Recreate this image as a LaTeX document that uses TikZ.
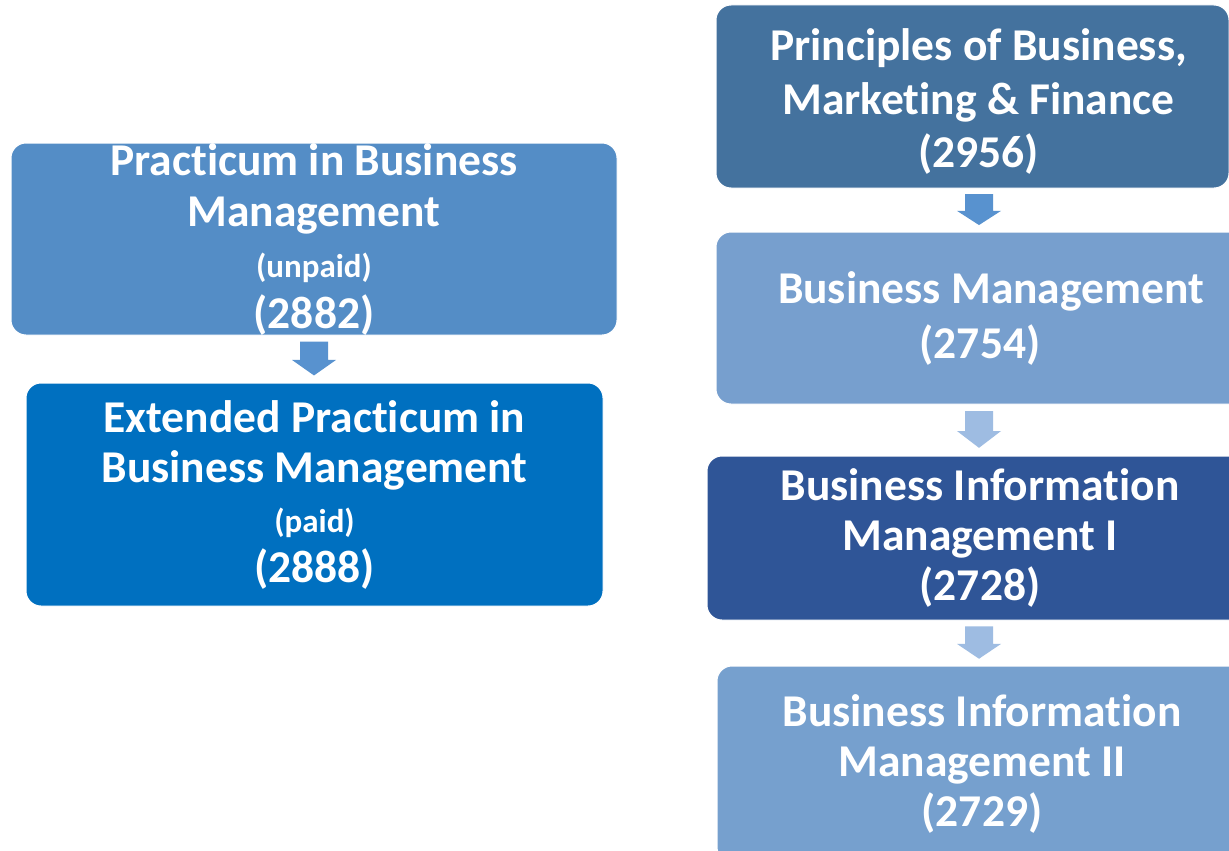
\documentclass[tikz,border=0pt]{standalone}
\usepackage{fontspec}
\setmainfont{Carlito}[Ligatures={NoCommon,NoContextual}]
\usetikzlibrary{calc}
\definecolor{cPract}{HTML}{548DC6}
\definecolor{cExt}{HTML}{0070C0}
\definecolor{cPrin}{HTML}{44729E}
\definecolor{cBM}{HTML}{779FCE}
\definecolor{cBIMa}{HTML}{2F5597}
\definecolor{cBIMb}{HTML}{76A0CE}
\definecolor{cArrDark}{HTML}{5892CF}
\definecolor{cArrLight}{HTML}{9EBCE2}
\tikzset{
  course/.style={rounded corners=15pt, draw=white, line width=1pt, text=white,
    align=center, inner sep=0pt, font=\bfseries\fontsize{45.5}{51}\selectfont},
}
\newcommand\blockarrow[4]{%
  \path (#4 |- #2.south) coordinate (s) (#4 |- #3.north) coordinate (e);
  \fill[#1] ($(s)!0.13!(e)+(-14,0)$) -- ($(s)!0.13!(e)+(14,0)$)
    -- ($(s)!0.52!(e)+(14,0)$) -- ($(s)!0.52!(e)+(22,0)$)
    -- ($(s)!0.85!(e)$) -- ($(s)!0.52!(e)+(-22,0)$)
    -- ($(s)!0.52!(e)+(-14,0)$) -- cycle;}
\newcommand\smalltxt[1]{{\fontsize{33}{33}\selectfont #1}}
\begin{document}
\begin{tikzpicture}[x=1pt,y=-1pt]
\useasboundingbox (0,0) rectangle (1229,851);
\fill[white] (0,0) rectangle (1229,851);
\clip (0,0) rectangle (1229,851);
% left column
\node[course, fill=cPract, minimum width=606, minimum height=192] (pract) at (314,239)
  {Practicum in Business\\Management\\\smalltxt{(unpaid)}\\(2882)};
\node[course, fill=cExt, minimum width=577, minimum height=223,
  font=\bfseries\fontsize{45.5}{50}\selectfont] (ext) at (314.5,494.5)
  {Extended Practicum in\\Business Management\\\smalltxt{(paid)}\\(2888)};
% right column
\node[course, fill=cPrin, minimum width=513, minimum height=183,
  font=\bfseries\fontsize{45.5}{53.5}\selectfont] (prin) at (972.5,96.5)
  {\hspace*{12pt}\rule{0pt}{42pt}Principles of Business,\\\hspace*{12pt}Marketing \& Finance\\\hspace*{12pt}(2956)};
\node[course, fill=cBM, minimum width=528, minimum height=172,
  font=\bfseries\fontsize{45.5}{55}\selectfont] (bm) at (980,318)
  {\hspace*{22pt}Business Management\\(2754)};
\node[course, fill=cBIMa, minimum width=546, minimum height=164,
  font=\bfseries\fontsize{45.5}{50}\selectfont] (bima) at (980,538)
  {Business Information\\Management I\\(2728)};
\node[course, fill=cBIMb, minimum width=530, minimum height=196,
  font=\bfseries\fontsize{45.5}{50}\selectfont] (bimb) at (982,764)
  {Business Information\\Management II\\(2729)};
% arrows
\coordinate (lx) at (314,0);
\coordinate (rx) at (979,0);
\blockarrow{cArrDark}{pract}{ext}{lx}
\blockarrow{cArrDark}{prin}{bm}{rx}
\blockarrow{cArrLight}{bm}{bima}{rx}
\blockarrow{cArrLight}{bima}{bimb}{rx}
\end{tikzpicture}
\end{document}
